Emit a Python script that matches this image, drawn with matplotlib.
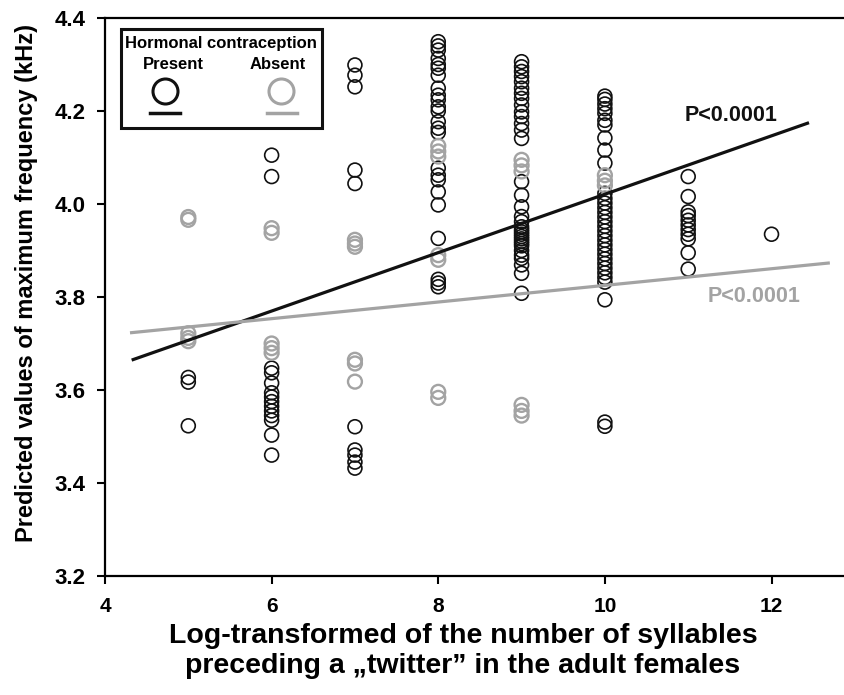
import matplotlib
matplotlib.use("Agg")
import matplotlib.pyplot as plt
from matplotlib.patches import Rectangle
import numpy as np

plt.rcParams["font.family"] = ["Liberation Sans", "DejaVu Sans"]
plt.rcParams["font.weight"] = "bold"

# predicted max frequency (kHz) per syllable count, women using hormonal contraception
present_5 = [3.627, 3.617, 3.523]
present_6 = [4.105, 4.059, 3.647, 3.637, 3.615, 3.594, 3.585, 3.575, 3.565,
             3.555, 3.545, 3.535, 3.503, 3.460]
present_7 = [4.299, 4.277, 4.252, 4.073, 4.044, 3.521, 3.471, 3.460, 3.445, 3.432]
present_8 = [4.349, 4.340, 4.331, 4.313, 4.300, 4.292, 4.277, 4.249, 4.234,
             4.224, 4.209, 4.200, 4.177, 4.163, 4.154, 4.077, 4.062, 4.052,
             4.026, 3.998, 3.926, 3.838, 3.830, 3.822]
present_9 = [4.306, 4.295, 4.285, 4.274, 4.263, 4.249, 4.238, 4.227, 4.213,
             4.198, 4.188, 4.173, 4.159, 4.141, 4.048, 4.019, 3.994, 3.973,
             3.962, 3.951, 3.945, 3.940, 3.935, 3.930, 3.925, 3.920, 3.915,
             3.910, 3.900, 3.890, 3.883, 3.869, 3.851, 3.808]
present_10 = [4.232, 4.225, 4.215, 4.205, 4.195, 4.180, 4.170, 4.142, 4.116,
              4.088, 4.023, 4.012, 4.002, 3.992, 3.982, 3.972, 3.962, 3.952,
              3.942, 3.932, 3.922, 3.912, 3.902, 3.892, 3.882, 3.872, 3.862,
              3.852, 3.842, 3.832, 3.794, 3.531, 3.522]
present_11 = [4.059, 4.016, 3.983, 3.975, 3.965, 3.955, 3.945, 3.935, 3.925,
              3.895, 3.860]
present_12 = [3.935]

# same, women without hormonal contraception
absent_5 = [3.972, 3.966, 3.722, 3.712, 3.705]
absent_6 = [3.948, 3.938, 3.700, 3.690, 3.680]
absent_7 = [3.923, 3.915, 3.908, 3.665, 3.657, 3.618]
absent_8 = [4.125, 4.113, 4.102, 3.890, 3.880, 3.596, 3.583]
absent_9 = [4.095, 4.083, 4.070, 3.568, 3.555, 3.545]
absent_10 = [4.062, 4.050, 4.040]

present_cols = {5: present_5, 6: present_6, 7: present_7, 8: present_8,
                9: present_9, 10: present_10, 11: present_11, 12: present_12}
absent_cols = {5: absent_5, 6: absent_6, 7: absent_7, 8: absent_8,
               9: absent_9, 10: absent_10}

# fitted lines: (intercept, slope, x start, x end)
fit_present = (3.393, 0.0628, 4.32, 12.45)
fit_absent = (3.646, 0.0179, 4.30, 12.70)

x_ticks = [4, 6, 8, 10, 12]
y_ticks = [3.2, 3.4, 3.6, 3.8, 4.0, 4.2, 4.4]

BLACK = "#111111"
GREY = "#a3a3a3"


def flatten(cols):
    xs, ys = [], []
    for k, vals in cols.items():
        xs += [k] * len(vals)
        ys += vals
    return np.array(xs, float), np.array(ys, float)


fig = plt.figure(figsize=(8.44, 6.95), dpi=100)
ax = fig.add_axes([105 / 844, 119 / 695, 739 / 844, 558 / 695])

px, py = flatten(present_cols)
gx, gy = flatten(absent_cols)
ax.scatter(px, py, s=100, facecolors="none", edgecolors=BLACK, linewidths=1.2, zorder=3)
ax.scatter(gx, gy, s=100, facecolors="none", edgecolors=GREY, linewidths=1.7, zorder=4)

for (b0, b1, x0, x1), col in [(fit_present, BLACK), (fit_absent, GREY)]:
    xx = np.array([x0, x1])
    ax.plot(xx, b0 + b1 * xx, color=col, lw=2.3, zorder=5, solid_capstyle="butt")

ax.text(11.52, 4.19, "P<0.0001", color=BLACK, fontsize=15.5,
        ha="center", va="center")
ax.text(11.79, 3.802, "P<0.0001", color=GREY, fontsize=15.5,
        ha="center", va="center")

# legend box drawn by hand
ax.add_patch(Rectangle((4.19, 4.163), 2.41, 0.213, fill=False, lw=2.2,
                       edgecolor=BLACK, zorder=6))
ax.text(5.39, 4.346, "Hormonal contraception", fontsize=12,
        ha="center", va="center", zorder=7)
ax.text(4.816, 4.299, "Present", fontsize=12, ha="center", va="center", zorder=7)
ax.text(6.076, 4.299, "Absent", fontsize=12, ha="center", va="center", zorder=7)
ax.plot([4.724], [4.242], "o", ms=18, mfc="none", mec=BLACK, mew=2.2, zorder=7)
ax.plot([6.112], [4.242], "o", ms=18, mfc="none", mec=GREY, mew=2.2, zorder=7)
ax.plot([4.54, 4.90], [4.196, 4.196], color=BLACK, lw=2.5, zorder=7)
ax.plot([5.944, 6.304], [4.196, 4.196], color=GREY, lw=2.5, zorder=7)

ax.set_xlim(4, 12.87)
ax.set_ylim(3.2, 4.4)
ax.set_xticks(x_ticks)
ax.set_yticks(y_ticks)
ax.set_yticklabels([f"{v:.1f}" for v in y_ticks])
ax.tick_params(direction="out", length=6, width=1.5, top=False)
ax.tick_params(axis="x", pad=9, labelsize=15)
ax.tick_params(axis="y", pad=8, labelsize=16)

for side in ["left", "bottom", "top"]:
    ax.spines[side].set_linewidth(1.6)
ax.spines["right"].set_visible(False)

fig.text(27 / 844, 1 - 283 / 695, "Predicted values of maximum frequency (kHz)",
         fontsize=17, rotation=90, ha="center", va="center")
fig.text(463 / 844, 1 - 623 / 695,
         "Log-transformed of the number of syllables\n"
         "preceding a \u201etwitter\u201d in the adult females",
         fontsize=20.5, linespacing=1.2,
         ha="center", va="top", multialignment="center")

fig.savefig("out.png", dpi=100, facecolor="white")
